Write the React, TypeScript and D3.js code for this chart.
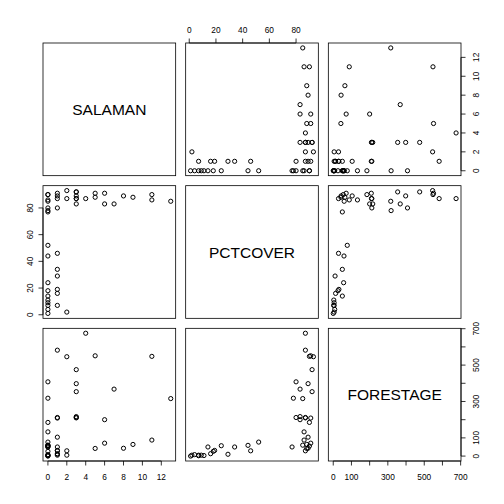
import * as d3 from 'd3';

// one entry per site
const salaman = [13, 11, 11, 9, 8, 7, 6, 6, 5, 5, 4, 3, 3, 3, 3, 3, 3, 2, 2, 2,
  1, 1, 1, 1, 1, 1, 1, 1, 1, 1,
  0, 0, 0, 0, 0, 0, 0, 0, 0, 0, 0, 0, 0, 0, 0, 0, 0];
const pctcover = [85, 86, 90, 88, 89, 83, 83, 91, 88, 91, 87, 83, 87, 89, 92, 87, 92, 2, 87, 93,
  87, 89, 91, 80, 46, 34, 29, 19, 16, 7,
  90, 90, 86, 85, 80, 78, 77, 52, 44, 24, 18, 14, 11, 9, 7, 4, 1];
const forestage = [316, 88, 548, 64, 43, 368, 200, 71, 42, 551, 675, 217, 212, 398, 475, 210, 354, 5, 29, 546,
  582, 104, 209, 212, 29, 50, 10, 31, 13, 5,
  185, 55, 133, 60, 408, 318, 50, 77, 59, 57, 26, 50, 3, 5, 2, 8, 0];

const varNames = ['SALAMAN', 'PCTCOVER', 'FORESTAGE'];
const salTicks = [0, 2, 4, 6, 8, 10, 12];
const pctTicks = [0, 20, 40, 60, 80];
const ageTicks = [0, 100, 200, 300, 400, 500, 600, 700];
const ageLabels = [0, 100, 300, 500, 700];

const W = 504;
const outer = 43;
const gap = 10;
const size = (W - 2 * outer - 2 * gap) / 3;
const font = '"Liberation Sans", Arial, sans-serif';

export default function App() {
  const cols = [salaman, pctcover, forestage];
  const ticks = [salTicks, pctTicks, ageTicks];
  const labels = [salTicks, pctTicks, ageLabels];
  const pos = (k: number) => outer + k * (size + gap);

  // R style range: data range padded by 4% on each side
  const scales = cols.map((v) => {
    const [lo, hi] = d3.extent(v) as [number, number];
    const pad = (hi - lo) * 0.04;
    return d3.scaleLinear().domain([lo - pad, hi + pad]);
  });
  const xs = (k: number) => scales[k].copy().range([pos(k), pos(k) + size]);
  const ys = (k: number) => scales[k].copy().range([pos(k) + size, pos(k)]);

  const panels = [];
  for (let i = 0; i < 3; i++) {
    for (let j = 0; j < 3; j++) {
      const x0 = pos(j);
      const y0 = pos(i);
      panels.push(
        <rect key={`b${i}${j}`} x={x0} y={y0} width={size} height={size}
          fill="none" stroke="#000" strokeWidth={0.8} />
      );
      if (i === j) {
        panels.push(
          <text key={`l${i}`} x={x0 + size / 2} y={y0 + size / 2} fontSize={15.5}
            fontFamily={font} textAnchor="middle" dominantBaseline="central">{varNames[i]}</text>
        );
        continue;
      }
      const x = xs(j);
      const y = ys(i);
      cols[j].forEach((v, n) => {
        panels.push(
          <circle key={`p${i}${j}${n}`} cx={x(v)} cy={y(cols[i][n])} r={2.1}
            fill="none" stroke="#000" strokeWidth={1} />
        );
      });
    }
  }

  const axes = [];
  // horizontal axes: top for even columns (row 1), bottom for odd columns (row 3)
  for (let j = 0; j < 3; j++) {
    const top = j % 2 === 1;
    const x = xs(j);
    const yEdge = top ? outer : pos(2) + size;
    const dir = top ? -1 : 1;
    const t = ticks[j];
    axes.push(<line key={`ha${j}`} x1={x(t[0])} x2={x(t[t.length - 1])} y1={yEdge} y2={yEdge} stroke="#000" strokeWidth={0.8} />);
    t.forEach((v) => axes.push(
      <line key={`ht${j}${v}`} x1={x(v)} x2={x(v)} y1={yEdge} y2={yEdge + dir * 4.5} stroke="#000" strokeWidth={0.8} />
    ));
    labels[j].forEach((v) => axes.push(
      <text key={`hl${j}${v}`} x={x(v)} y={yEdge + dir * (top ? 13.4 : 15.5)} fontSize={8.3} fontFamily={font}
        textAnchor="middle" dominantBaseline="central">{v}</text>
    ));
  }
  // vertical axes: left for even rows (col 1), right for odd rows (col 3)
  for (let i = 0; i < 3; i++) {
    const left = i % 2 === 1;
    const y = ys(i);
    const xEdge = left ? outer : pos(2) + size;
    const dir = left ? -1 : 1;
    const t = ticks[i];
    axes.push(<line key={`va${i}`} y1={y(t[0])} y2={y(t[t.length - 1])} x1={xEdge} x2={xEdge} stroke="#000" strokeWidth={0.8} />);
    t.forEach((v) => axes.push(
      <line key={`vt${i}${v}`} y1={y(v)} y2={y(v)} x1={xEdge} x2={xEdge + dir * 4.5} stroke="#000" strokeWidth={0.8} />
    ));
    labels[i].forEach((v) => {
      const lx = xEdge + dir * (left ? 13.4 : 15.5);
      axes.push(
        <text key={`vl${i}${v}`} x={lx} y={y(v)} fontSize={8.3} fontFamily={font}
          textAnchor="middle" dominantBaseline="central"
          transform={`rotate(-90 ${lx} ${y(v)})`}>{v}</text>
      );
    });
  }

  return (
    <svg width={W} height={W} style={{ position: 'absolute', left: 0, top: 0, background: '#fff' }}>
      {panels}
      {axes}
    </svg>
  );
}
